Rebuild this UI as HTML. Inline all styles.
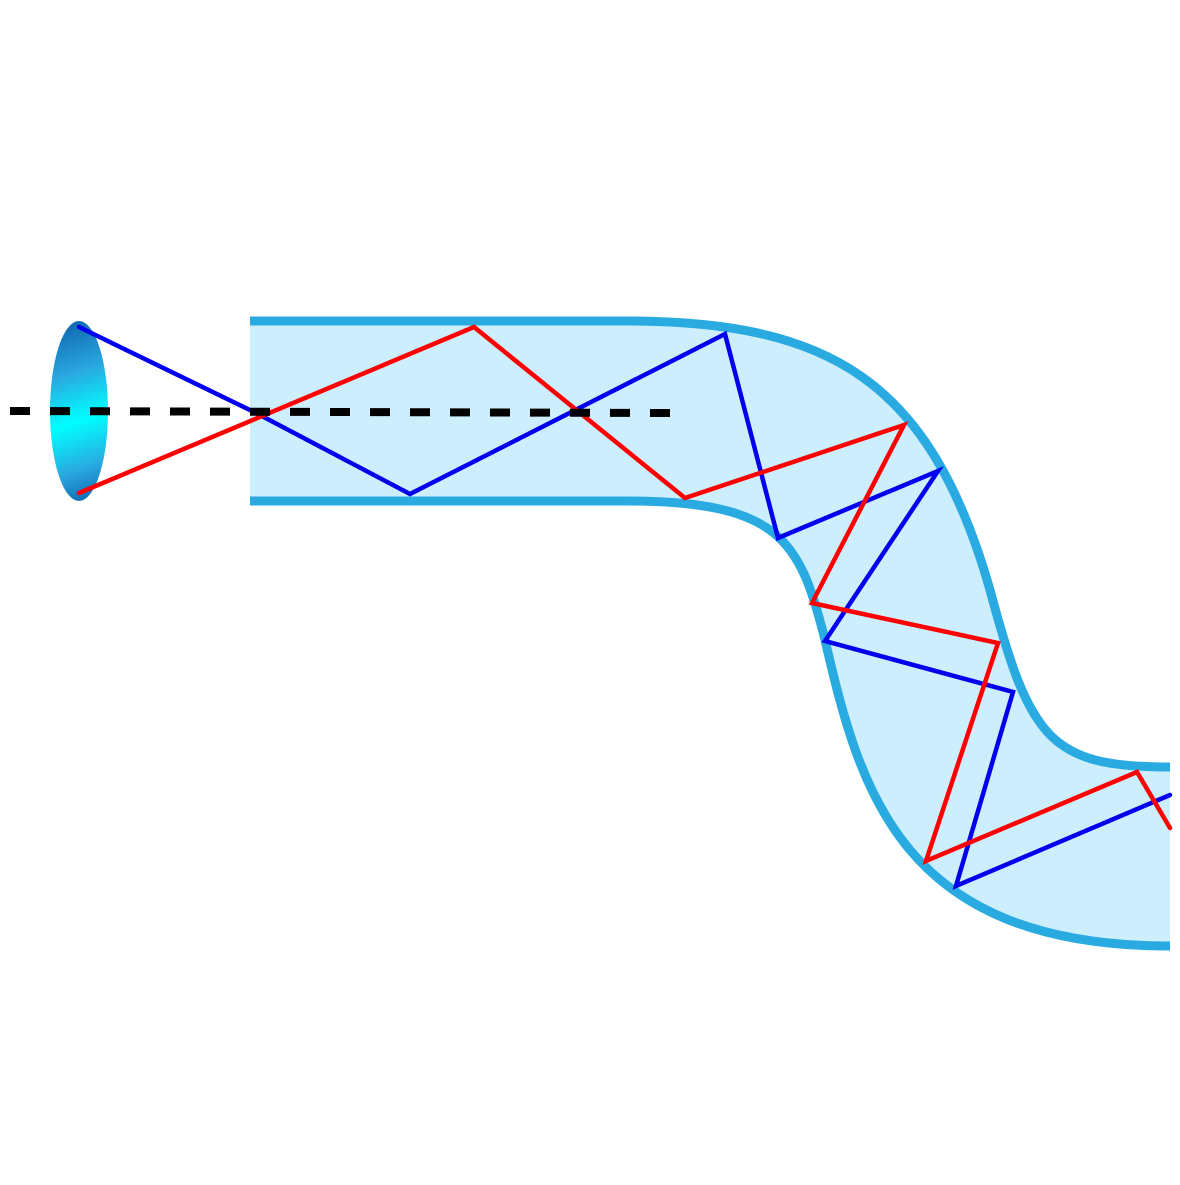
<!DOCTYPE html>
<html><head><style>html,body{margin:0;padding:0;background:#fff}</style></head>
<body>
<svg width="1180" height="1180" viewBox="0 0 1180 1180" xmlns="http://www.w3.org/2000/svg">
<defs>
<linearGradient id="g" x1="50" y1="321" x2="108" y2="501" gradientUnits="userSpaceOnUse">
<stop offset="0" stop-color="#0b5fa8"/>
<stop offset="0.3" stop-color="#2aa8e0"/>
<stop offset="0.55" stop-color="#00ffff"/>
<stop offset="0.8" stop-color="#2aa8e0"/>
<stop offset="1" stop-color="#0b5fa8"/>
</linearGradient>
</defs>
<path d="M250,321 L625,321 C830,321 930,380 990,590 C1030,740 1050,767 1170,767 L1170,946 C900,946 860,790 825,640 C800,540 780,501 625,501 L250,501 Z" fill="#cdeefc"/>
<path d="M250,321 L625,321 C830,321 930,380 990,590 C1030,740 1050,767 1170,767" fill="none" stroke="#29abe2" stroke-width="9"/>
<path d="M250,501 L625,501 C780,501 800,540 825,640 C860,790 900,946 1170,946" fill="none" stroke="#29abe2" stroke-width="9"/>
<ellipse cx="79" cy="411" rx="29" ry="90" fill="url(#g)"/>
<polyline points="79,327 258,414 410,494 725,334 778,538 938,471 825,641 1013,692 956,886 1170,795" fill="none" stroke="#0000ee" stroke-width="4.5" stroke-linejoin="miter" stroke-linecap="round"/>
<polyline points="79,493 474,327 685,498 904,425 812,603 998,643 926,861 1137,772 1170,828" fill="none" stroke="#ff0000" stroke-width="4.5" stroke-linecap="round"/>
<line x1="10" y1="411" x2="670" y2="413" stroke="#000" stroke-width="8" stroke-dasharray="20 20"/>
</svg>
</body></html>
